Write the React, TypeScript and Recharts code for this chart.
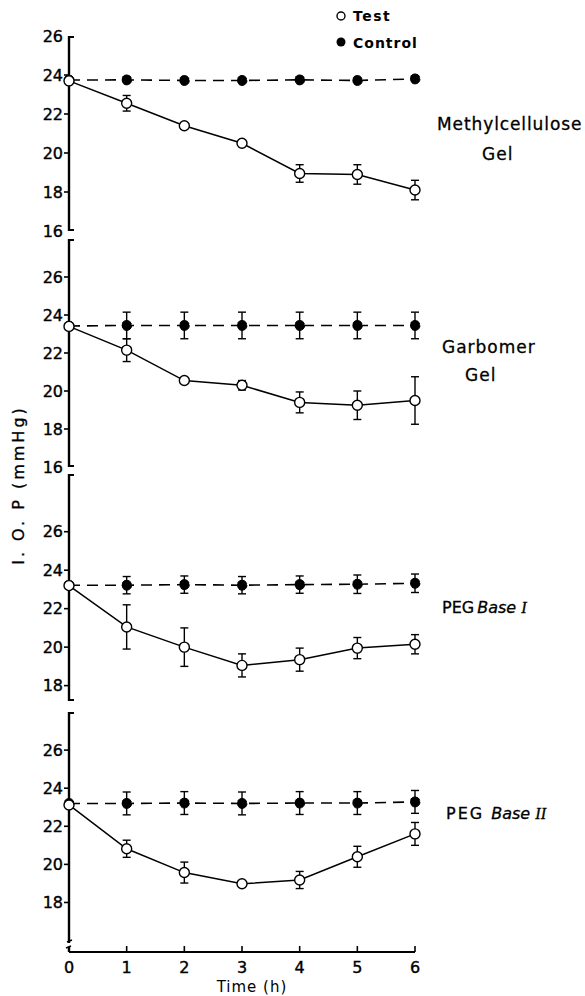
import React from "react"
import { LineChart, Line, XAxis, YAxis, ErrorBar } from "recharts"

const hours = [0, 1, 2, 3, 4, 5, 6]

// Methylcellulose gel
const mcTest = [23.7, 22.55, 21.4, 20.5, 18.95, 18.9, 18.1]
const mcTestErr = [null, 0.4, null, null, 0.45, 0.5, 0.5]
const mcControl = [23.74, 23.75, 23.72, 23.72, 23.75, 23.72, 23.8]
const mcControlErr = [null, null, null, null, null, null, null]

// Carbomer gel
const cbTest = [23.4, 22.15, 20.55, 20.3, 19.4, 19.25, 19.5]
const cbTestErr = [null, 0.6, null, 0.25, 0.55, 0.75, 1.25]
const cbControl = [23.42, 23.45, 23.45, 23.45, 23.45, 23.45, 23.45]
const cbControlErr = [null, 0.7, 0.7, 0.7, 0.7, 0.7, 0.7]

// PEG base I
const pegITest = [23.2, 21.05, 20.0, 19.05, 19.35, 19.95, 20.15]
const pegITestErr = [null, 1.15, 1.0, 0.6, 0.6, 0.55, 0.5]
const pegIControl = [23.22, 23.22, 23.25, 23.22, 23.25, 23.27, 23.32]
const pegIControlErr = [null, 0.45, 0.45, 0.45, 0.45, 0.48, 0.48]

// PEG base II
const pegIITest = [23.12, 20.82, 19.57, 18.98, 19.18, 20.4, 21.6]
const pegIITestErr = [null, 0.45, 0.55, null, 0.45, 0.55, 0.6]
const pegIIControl = [23.2, 23.2, 23.22, 23.2, 23.22, 23.22, 23.28]
const pegIIControlErr = [null, 0.6, 0.6, 0.6, 0.6, 0.6, 0.6]

const ticksFull = [16, 18, 20, 22, 24, 26]
const ticksUpper = [18, 20, 22, 24, 26]

const FONT = "'DejaVu Sans', sans-serif"
const W = 585
const LEFT = 69
const RIGHT = 415

const rows = (t: any[], te: any[], c: any[], ce: any[]) =>
  hours.map((h, i) => ({ h, test: t[i], testErr: te[i], control: c[i], controlErr: ce[i] }))

const panels = [
  { key: "mc", top: 36, bottom: 231, domain: [16, 26], labels: ticksFull, data: rows(mcTest, mcTestErr, mcControl, mcControlErr) },
  { key: "cb", top: 239, bottom: 467, domain: [16, 28], labels: ticksFull, data: rows(cbTest, cbTestErr, cbControl, cbControlErr) },
  { key: "p1", top: 474, bottom: 701, domain: [17.2, 29], labels: ticksUpper, data: rows(pegITest, pegITestErr, pegIControl, pegIControlErr) },
  { key: "p2", top: 712, bottom: 952, domain: [15.4, 28], labels: ticksUpper, data: rows(pegIITest, pegIITestErr, pegIIControl, pegIIControlErr), last: true },
]

const YTick = (props: any) => {
  const { x, y, payload, labels, domain, last } = props
  const v = payload.value
  const isTop = v === domain[1]
  const isBottom = v === domain[0]
  const isLabel = labels.includes(v)
  return (
    <g>
      {isTop && <line x1={x} x2={x + 5} y1={y + 1} y2={y + 1} stroke="#000" strokeWidth={2} />}
      {isBottom && !last && <line x1={x} x2={x + 5} y1={y - 1} y2={y - 1} stroke="#000" strokeWidth={2} />}
      {isBottom && last && (
        <g>
          <rect x={x - 3} y={y - 9} width={6} height={4} fill="#fff" />
          <line x1={x - 2} x2={x + 3} y1={y - 10} y2={y - 12} stroke="#000" strokeWidth={1.4} />
          <line x1={x - 3} x2={x + 2} y1={y - 4} y2={y - 6} stroke="#000" strokeWidth={1.4} />
        </g>
      )}
      {isLabel && !isTop && !isBottom && <line x1={x - 5} x2={x} y1={y} y2={y} stroke="#000" strokeWidth={1.6} />}
      {isLabel && (
        <text x={x - 6} y={y} dy="0.36em" textAnchor="end" fontFamily={FONT} fontSize={16} fill="#000" stroke="#000" strokeWidth={0.4}>
          {v}
        </text>
      )}
    </g>
  )
}

const XTick = (props: any) => {
  const { x, y, payload } = props
  return (
    <g>
      {payload.value > 0 && <line x1={x} x2={x} y1={y} y2={y - 6} stroke="#000" strokeWidth={1.6} />}
      <text x={x} y={y + 21} textAnchor="middle" fontFamily={FONT} fontSize={16} fill="#000" stroke="#000" strokeWidth={0.4}>
        {payload.value}
      </text>
    </g>
  )
}

const Panel = ({ p }: { p: any }) => {
  const mTop = 14
  const xh = p.last ? 40 : 0
  const mBottom = p.last ? 4 : 14
  const height = p.bottom - p.top + mTop + mBottom + xh
  const ticks = Array.from(new Set([p.domain[0], ...p.labels, p.domain[1]]))
  return (
    <div style={{ position: "absolute", left: 0, top: p.top - mTop }}>
      <LineChart width={W} height={height} data={p.data} margin={{ top: mTop, right: W - RIGHT, bottom: mBottom, left: LEFT - 60 }}>
        <XAxis
          dataKey="h"
          type="number"
          domain={[0, 6]}
          ticks={hours}
          hide={!p.last}
          height={xh}
          axisLine={{ stroke: "#000", strokeWidth: 2 }}
          tickLine={false}
          tickSize={0}
          tickMargin={0}
          tick={XTick}
          label={p.last ? { value: "Time (h)", position: "insideBottom", offset: 0, dx: 10, style: { fontFamily: FONT, fontSize: 15, fill: "#000", letterSpacing: 1 } } : undefined}
        />
        <YAxis
          type="number"
          domain={p.domain}
          allowDataOverflow
          ticks={ticks}
          width={60}
          axisLine={{ stroke: "#000", strokeWidth: 2.4 }}
          tickLine={false}
          tickSize={0}
          tickMargin={0}
          interval={0}
          tick={(tp: any) => <YTick {...tp} labels={p.labels} domain={p.domain} last={p.last} />}
        />
        <Line
          dataKey="control"
          stroke="#000"
          strokeWidth={1.6}
          strokeDasharray="11 7"
          dot={{ r: 5, fill: "#000", stroke: "#000", strokeWidth: 1 }}
          isAnimationActive={false}
        >
          <ErrorBar dataKey="controlErr" direction="y" width={4} stroke="#000" strokeWidth={1.4} />
        </Line>
        <Line
          dataKey="test"
          stroke="#000"
          strokeWidth={1.5}
          dot={{ r: 5, fill: "#fff", stroke: "#000", strokeWidth: 1.4 }}
          isAnimationActive={false}
        >
          <ErrorBar dataKey="testErr" direction="y" width={4} stroke="#000" strokeWidth={1.4} />
        </Line>
      </LineChart>
    </div>
  )
}

const textStyle = { fontFamily: FONT, fill: "#000", stroke: "#000", strokeWidth: 0.3 }

export default function App() {
  return (
    <div style={{ position: "absolute", left: 0, top: 0, width: W, height: 996, background: "#fff" }}>
      {panels.map((p) => (
        <Panel key={p.key} p={p} />
      ))}
      <svg width={W} height={996} style={{ position: "absolute", left: 0, top: 0, pointerEvents: "none" }}>
        <circle cx={341} cy={16} r={4} fill="#fff" stroke="#000" strokeWidth={1.4} />
        <text x={353} y={21} fontSize={14} fontWeight="bold" letterSpacing={1.5} fontFamily={FONT} fill="#000">Test</text>
        <circle cx={341} cy={42} r={4.5} fill="#000" />
        <text x={353} y={48} fontSize={14} fontWeight="bold" letterSpacing={1} fontFamily={FONT} fill="#000">Control</text>

        <text x={437} y={130} fontSize={17} letterSpacing={0.9} {...textStyle}>Methylcellulose</text>
        <text x={482} y={160} fontSize={17} letterSpacing={1} {...textStyle}>Gel</text>

        <text x={442} y={353} fontSize={17} letterSpacing={1} {...textStyle}>Garbomer</text>
        <text x={465} y={381} fontSize={17} letterSpacing={1} {...textStyle}>Gel</text>

        <text x={442} y={613} fontSize={16} {...textStyle}>
          PEG<tspan fontStyle="italic" dx={3}>Base </tspan>
          <tspan fontStyle="italic" fontFamily="'Liberation Serif', serif">I</tspan>
        </text>
        <text x={446} y={819} fontSize={16} {...textStyle}>
          <tspan letterSpacing={2}>PEG </tspan>
          <tspan fontStyle="italic">Base </tspan>
          <tspan fontStyle="italic" fontFamily="'Liberation Serif', serif">II</tspan>
        </text>

        <text x={18} y={485} transform="rotate(-90 18 485)" textAnchor="middle" dominantBaseline="central" fontSize={16} letterSpacing={3} {...textStyle}>
          I. O. P (mmHg)
        </text>
      </svg>
    </div>
  )
}
